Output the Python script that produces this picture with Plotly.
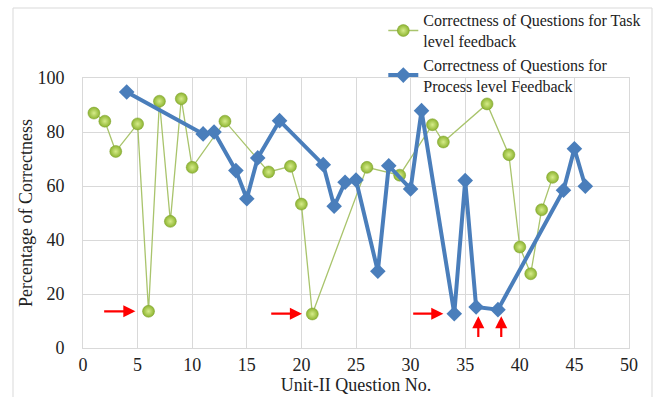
import plotly.graph_objects as go

# Question numbers and correctness (%) for each feedback type
task_q = [1, 2, 3, 5, 6, 7, 8, 9, 10, 13, 17, 19, 20, 21, 26, 29, 32, 33, 37, 39, 40, 41, 42, 43]
task_pct = [87.0, 84.0, 72.8, 83.0, 13.6, 91.4, 46.9, 92.3, 66.9, 84.0, 65.2, 67.3, 53.3, 12.6,
            66.9, 64.0, 82.7, 76.3, 90.4, 71.6, 37.4, 27.5, 51.2, 63.2]

process_q = [4, 11, 12, 14, 15, 16, 18, 22, 23, 24, 25, 27, 28, 30, 31, 34, 35, 36, 38, 44, 45, 46]
process_pct = [94.8, 79.3, 80.0, 65.7, 55.3, 70.4, 84.2, 67.9, 52.5, 61.4, 62.2, 28.4, 67.5, 58.9,
               87.9, 12.7, 62.0, 15.2, 14.2, 58.4, 73.8, 59.9]

# Red arrows highlighting the lowest-scoring questions: (tail_x, tail_y, head_x, head_y)
arrows = [
    (1.8, 13.6, 4.8, 13.6),
    (17.1, 12.7, 20.05, 12.7),
    (30.1, 12.7, 33.0, 12.7),
    (36.2, 3.5, 36.2, 11.8),
    (38.3, 3.5, 38.3, 11.8),
]

x_ticks = [0, 5, 10, 15, 20, 25, 30, 35, 40, 45, 50]
y_ticks = [0, 20, 40, 60, 80, 100]

serif = "Liberation Serif"
ink = "#222222"

fig = go.Figure()

fig.add_trace(go.Scatter(
    x=task_q, y=task_pct, mode="lines+markers",
    name="Correctness of Questions for Task<br>level feedback",
    line=dict(color="#A9C46C", width=1.3),
    marker=dict(symbol="circle", size=12, color="#8DB431",
                gradient=dict(type="radial", color="#D6EC8A"),
                line=dict(color="#7A9E2A", width=0.5)),
))

fig.add_trace(go.Scatter(
    x=process_q, y=process_pct, mode="lines+markers",
    name="Correctness of Questions for<br>Process level Feedback",
    line=dict(color="#4A7EBB", width=4),
    marker=dict(symbol="diamond", size=12, color="#4A7EBB"),
))

for tx, ty, hx, hy in arrows:
    fig.add_annotation(
        x=hx, y=hy, ax=tx, ay=ty, xref="x", yref="y", axref="x", ayref="y",
        text="", showarrow=True, arrowhead=2, arrowsize=1.1, arrowwidth=2.2,
        arrowcolor="#FF0000",
    )

# Outer chart frame
fig.add_shape(type="rect", xref="paper", yref="paper",
              x0=(13 - 83) / 546, x1=(652 - 83) / 546,
              y0=(348 - 420) / 270, y1=(348 - 8) / 270,
              line=dict(color="#D9D9D9", width=1), fillcolor="rgba(0,0,0,0)", layer="below")

fig.update_layout(
    width=657, height=397,
    margin=dict(l=83, r=28, t=78, b=49, autoexpand=False),
    paper_bgcolor="white", plot_bgcolor="white",
    font=dict(family=serif, color=ink),
    showlegend=True,
    legend=dict(x=0.55, y=1.277, xanchor="left", yanchor="top",
                font=dict(family=serif, size=16, color=ink),
                bgcolor="rgba(0,0,0,0)", tracegroupgap=0, itemwidth=30),
    xaxis=dict(range=[0, 50], tickvals=x_ticks, ticks="", showgrid=True,
               gridcolor="#D9D9D9", gridwidth=1, zeroline=False,
               showline=True, linecolor="#D9D9D9", mirror=True,
               tickfont=dict(family=serif, size=18, color=ink),
               title=dict(text="Unit-II Question No.", standoff=0,
                          font=dict(family=serif, size=18, color=ink))),
    yaxis=dict(range=[0, 100], tickvals=y_ticks, ticks="", showgrid=True,
               gridcolor="#D9D9D9", gridwidth=1, zeroline=False,
               showline=True, linecolor="#D9D9D9", mirror=True,
               ticklabelstandoff=14,
               tickfont=dict(family=serif, size=18, color=ink),
               title=dict(text="Percentage of Correctness", standoff=0,
                          font=dict(family=serif, size=18, color=ink))),
)

fig.write_html("out.html")
